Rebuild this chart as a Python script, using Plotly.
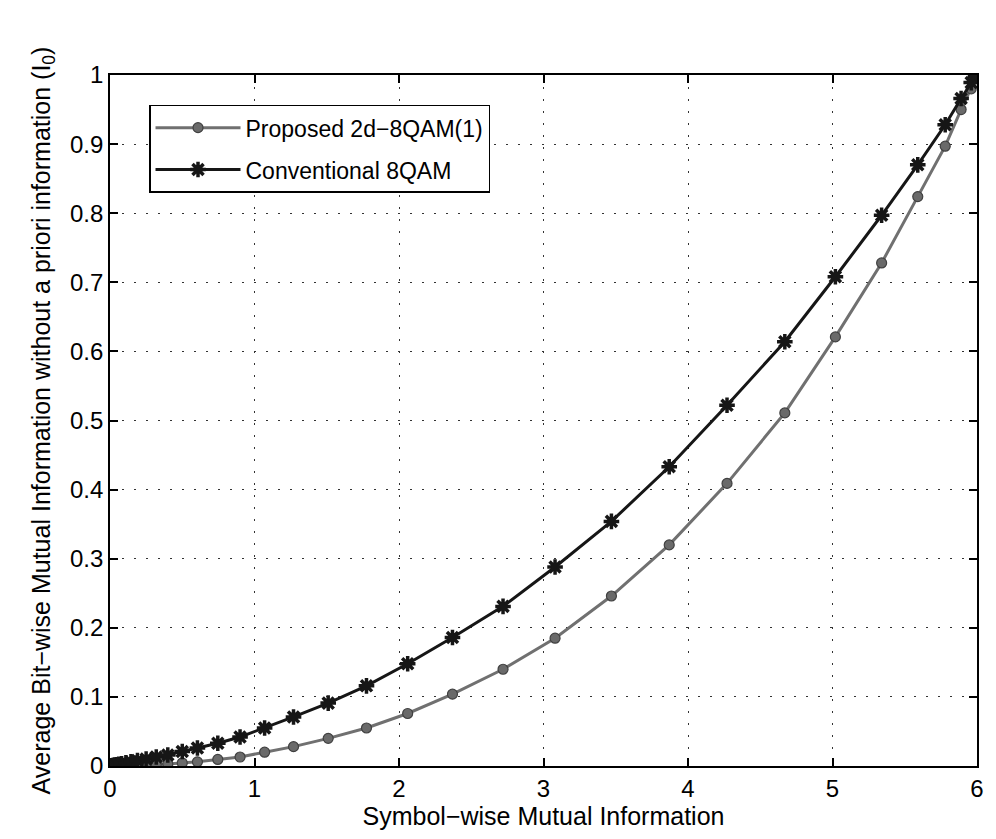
import plotly.graph_objects as go

# Symbol-wise mutual information (shared x positions of both curves)
x_vals = [0, 0.01, 0.02, 0.03, 0.045, 0.06, 0.08, 0.11, 0.145, 0.19, 0.25, 0.32, 0.40,
          0.50, 0.605, 0.746, 0.90, 1.07, 1.27, 1.51, 1.775, 2.06, 2.37, 2.72, 3.08,
          3.47, 3.87, 4.27, 4.67, 5.02, 5.34, 5.59, 5.78, 5.89, 5.96, 5.99, 6.0]

proposed = [0, 0.00005, 0.0001, 0.00015, 0.0002, 0.0003, 0.0004, 0.0005, 0.0007, 0.001,
            0.0015, 0.0022, 0.003, 0.0045, 0.006, 0.0095, 0.013, 0.020, 0.028, 0.040,
            0.055, 0.076, 0.104, 0.140, 0.185, 0.246, 0.320, 0.409, 0.511, 0.621,
            0.728, 0.824, 0.897, 0.950, 0.980, 0.995, 1.0]

conventional = [0, 0.0004, 0.0008, 0.0012, 0.0018, 0.0025, 0.0033, 0.0045, 0.006, 0.0078,
                0.010, 0.013, 0.016, 0.021, 0.026, 0.033, 0.042, 0.055, 0.071, 0.091,
                0.116, 0.148, 0.186, 0.231, 0.288, 0.354, 0.433, 0.522, 0.614, 0.708,
                0.797, 0.870, 0.928, 0.966, 0.989, 0.998, 1.0]

x_ticks = [0, 1, 2, 3, 4, 5, 6]
x_tick_text = ["0", "1", "2", "3", "4", "5", "6"]
y_ticks = [0, 0.1, 0.2, 0.3, 0.4, 0.5, 0.6, 0.7, 0.8, 0.9, 1.0]
y_tick_text = ["0", "0.1", "0.2", "0.3", "0.4", "0.5", "0.6", "0.7", "0.8", "0.9", "1"]

FONT = "Liberation Sans, Arial, Helvetica, sans-serif"

fig = go.Figure()
fig.add_trace(go.Scatter(
    x=x_vals, y=proposed, mode="lines+markers",
    name="Proposed 2d−8QAM(1)", legendgroup="p",
    line=dict(color="#707070", width=3),
    marker=dict(symbol="circle", size=10, color="#6a6a6a",
                line=dict(color="#404040", width=1.2)),
))
fig.add_trace(go.Scatter(
    x=x_vals, y=conventional, mode="lines+markers",
    name="Conventional 8QAM", legendgroup="c",
    line=dict(color="#161616", width=3),
    marker=dict(symbol="asterisk-open", size=13, color="#161616",
                line=dict(color="#161616", width=3.5)),
))

axis_common = dict(
    showline=True, linecolor="black", linewidth=1.8, mirror="ticks",
    ticks="inside", ticklen=8, tickwidth=1.5, tickcolor="black",
    showgrid=True, gridcolor="#333333", griddash="2px,10px", gridwidth=1.3,
    zeroline=False,
    tickfont=dict(family=FONT, size=24, color="black"),
)

fig.update_layout(
    width=996, height=839,
    margin=dict(l=110, r=12, t=75, b=73),
    paper_bgcolor="white", plot_bgcolor="white",
    font=dict(family=FONT, color="black"),
    xaxis=dict(range=[0, 6], tickvals=x_ticks, ticktext=x_tick_text,
               title=dict(text="Symbol−wise Mutual Information",
                          font=dict(family=FONT, size=25), standoff=2),
               **axis_common),
    yaxis=dict(range=[0, 1], tickvals=y_ticks, ticktext=y_tick_text,
               title=dict(text="Average Bit−wise Mutual Information without a priori information (I<sub>0</sub>)",
                          font=dict(family=FONT, size=25), standoff=12),
               **axis_common),
    legend=dict(x=0.045, y=0.957, xanchor="left", yanchor="top",
                bgcolor="white", bordercolor="black", borderwidth=1.5,
                font=dict(family=FONT, size=23),
                itemwidth=85, tracegroupgap=9),
    showlegend=True,
)

fig.write_html("out.html")
